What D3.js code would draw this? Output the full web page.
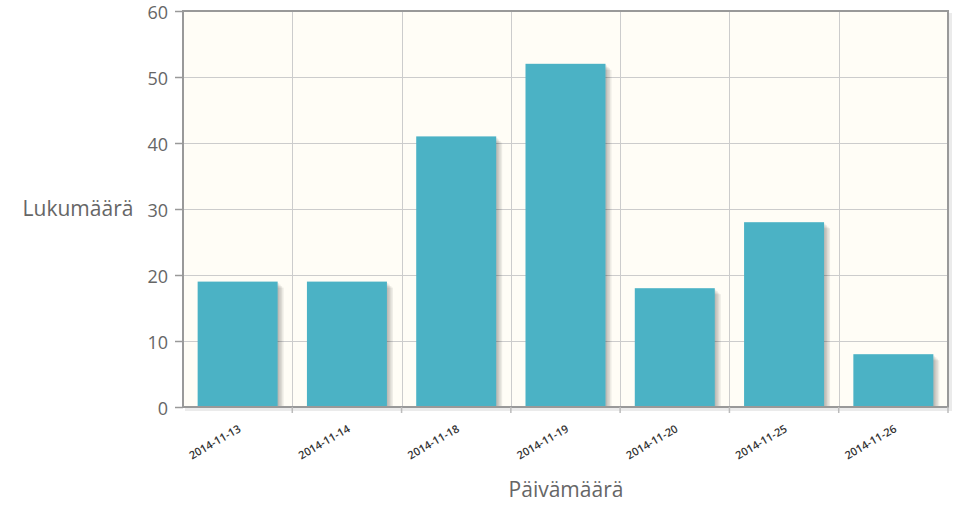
<!DOCTYPE html>
<html>
<head>
<meta charset="utf-8">
<script src="https://cdn.jsdelivr.net/npm/d3@7"></script>
<style>
  body { margin: 0; background: #fff; }
  svg { display: block; font-family: "Open Sans", sans-serif; }
</style>
</head>
<body>
<svg id="chart" width="961" height="506"></svg>
<script>
/* ── DATA ─────────────────────────────────────── */
const dates  = ['2014-11-13','2014-11-14','2014-11-18','2014-11-19','2014-11-20','2014-11-25','2014-11-26'];
const counts = [19, 19, 41, 52, 18, 28, 8];
const yTicks = [0, 10, 20, 30, 40, 50, 60];

/* ── LAYOUT ───────────────────────────────────── */
const plotL = 183, plotR = 948, plotT = 11, plotB = 407;
const svg = d3.select('#chart');

const x = d3.scaleBand().domain(dates).range([plotL, plotR]).paddingInner(0).paddingOuter(0);
const y = d3.scaleLinear().domain([0, 60]).range([plotB, plotT]);
const barW = 80;

// plot background
svg.append('rect').attr('x', plotL).attr('y', plotT)
  .attr('width', plotR - plotL).attr('height', plotB - plotT).attr('fill', '#fffdf6');

// grid
const grid = svg.append('g').attr('stroke', '#cccccc').attr('stroke-width', 1);
yTicks.forEach(t => {
  grid.append('line').attr('x1', plotL).attr('x2', plotR)
    .attr('y1', Math.round(y(t)) + 0.5).attr('y2', Math.round(y(t)) + 0.5);
});
dates.forEach(d => {
  const xx = Math.round(x(d)) + 0.5;
  grid.append('line').attr('x1', xx).attr('x2', xx).attr('y1', plotT).attr('y2', plotB);
});

// bars with soft shadow
const bars = svg.append('g');
dates.forEach((d, i) => {
  const cx = x(d) + x.bandwidth() / 2;
  const bx = cx - barW / 2, by = y(counts[i]), bh = plotB - by;
  for (let k = 1; k <= 4; k++) {
    bars.append('rect').attr('x', bx + k * 1.5).attr('y', by + k * 1.5)
      .attr('width', barW).attr('height', bh - k * 1.5)
      .attr('fill', '#000').attr('opacity', 0.07);
  }
  bars.append('rect').attr('x', bx).attr('y', by)
    .attr('width', barW).attr('height', bh).attr('fill', '#4bb2c5');
});

// border
svg.append('rect').attr('x', plotL).attr('y', plotT)
  .attr('width', plotR - plotL).attr('height', plotB - plotT)
  .attr('fill', 'none').attr('stroke', '#999999').attr('stroke-width', 2);
// border shadow
svg.append('path')
  .attr('d', `M${plotL + 2},${plotB + 2.5}H${plotR + 2.5}V${plotT + 2}`)
  .attr('fill', 'none').attr('stroke', '#000').attr('stroke-opacity', 0.08).attr('stroke-width', 3);

// y axis
const yAxis = svg.append('g')
  .attr('transform', `translate(${plotL},0)`)
  .call(d3.axisLeft(y).tickValues(yTicks).tickSize(8).tickPadding(7));
yAxis.select('.domain').remove();
yAxis.selectAll('line').attr('stroke', '#999999').attr('stroke-width', 1.5);
yAxis.selectAll('text').attr('fill', '#666').attr('font-size', 18)
  .attr('dy', '0.42em')
  .attr('font-family', '"Open Sans", sans-serif');

// x axis ticks (category edges)
const xt = svg.append('g').attr('stroke', '#bbbbbb').attr('stroke-width', 1.5);
dates.slice(1).forEach(d => {
  xt.append('line').attr('x1', x(d)).attr('x2', x(d)).attr('y1', plotB).attr('y2', plotB + 6);
});
xt.append('line').attr('x1', plotR).attr('x2', plotR).attr('y1', plotB).attr('y2', plotB + 6);

// x labels rotated
const xl = svg.append('g');
dates.forEach(d => {
  const cx = x(d) + x.bandwidth() / 2 + 4;
  xl.append('text')
    .attr('transform', `translate(${cx},${plotB + 24}) rotate(-30)`)
    .attr('text-anchor', 'end')
    .attr('font-size', 11)
    .attr('font-weight', 600)
    .attr('fill', '#333')
    .text(d);
});

// axis titles
svg.append('text').attr('x', 78).attr('y', 216).attr('text-anchor', 'middle')
  .attr('font-size', 21).attr('fill', '#666').text('Lukumäärä');
svg.append('text').attr('x', 566).attr('y', 497).attr('text-anchor', 'middle')
  .attr('font-size', 21).attr('fill', '#666').text('Päivämäärä');
</script>
</body>
</html>
